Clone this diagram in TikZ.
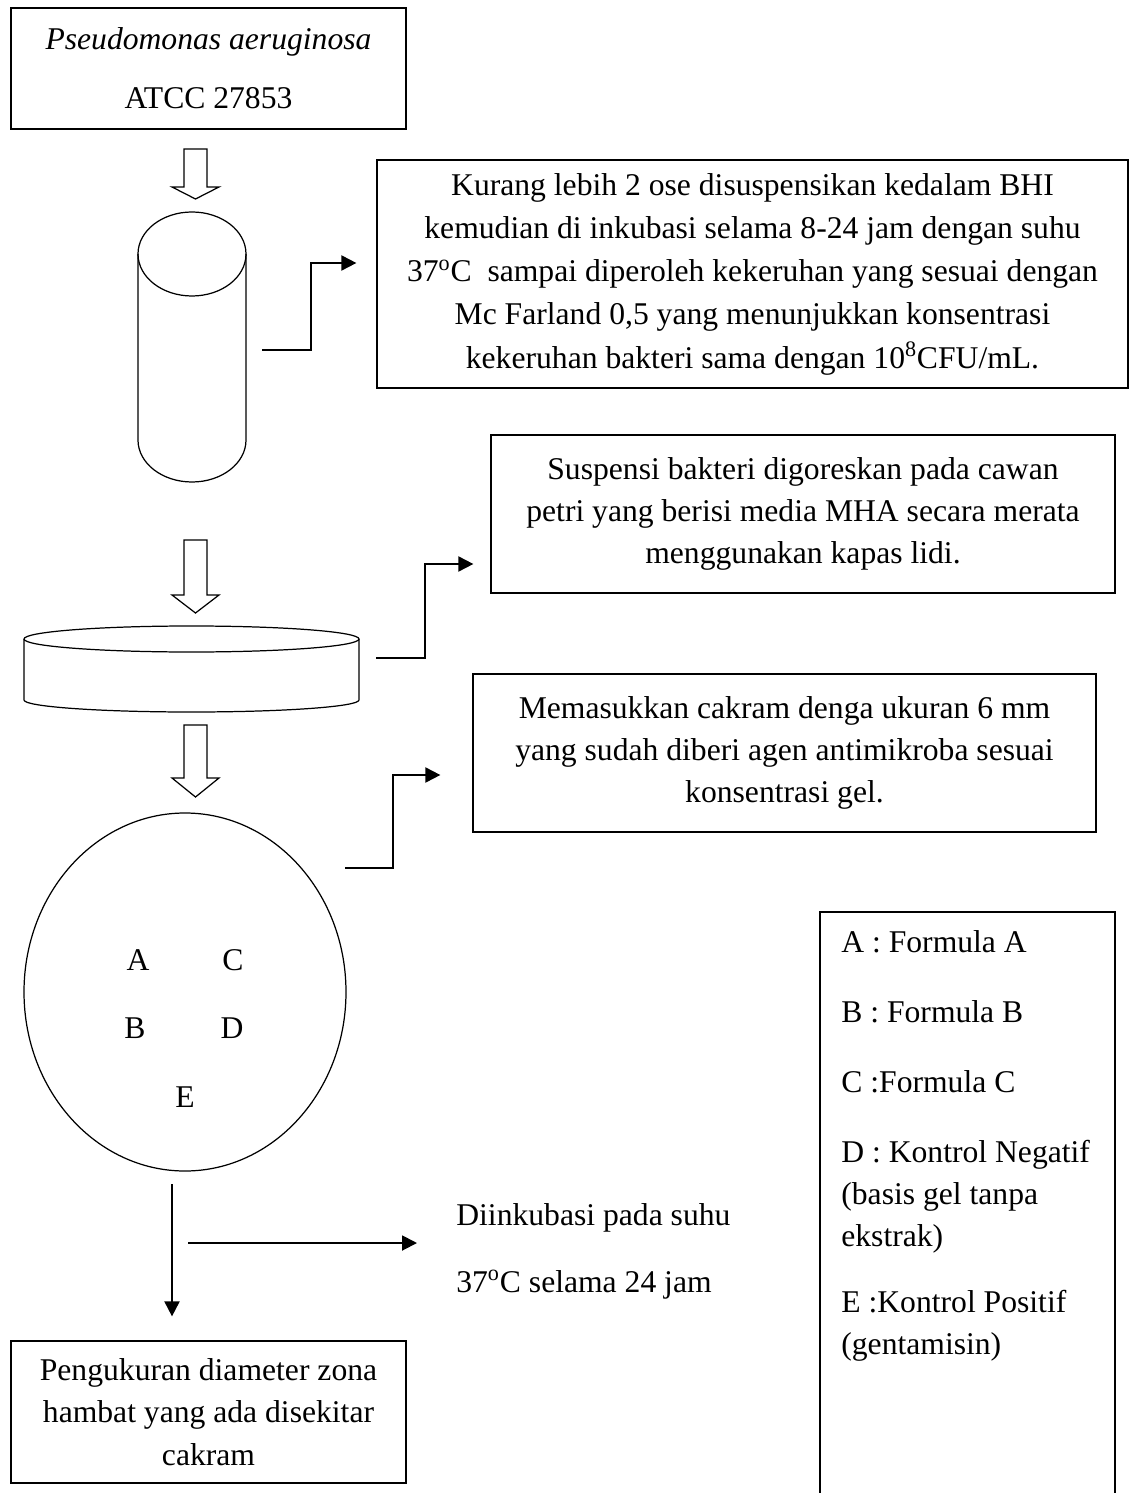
\documentclass[tikz,border=0pt]{standalone}
\usepackage{fontspec}
\setmainfont{Liberation Serif}
\usepackage{tikz}
\usetikzlibrary{positioning,shapes.geometric,arrows.meta,calc}
\tikzset{
  stepbox/.style={draw=black,line width=0.7pt,align=center,inner sep=2pt,
    font=\fontsize{18}{24}\selectfont},
  platelabel/.style={font=\fontsize{18}{24}\selectfont,inner sep=0pt},
  notetext/.style={font=\fontsize{18}{24}\selectfont,align=left,inner sep=0pt},
  shapeline/.style={draw=black,line width=0.7pt},
  flow/.style={draw=black,line width=1.1pt,-{Triangle[length=0.3cm,width=0.3cm]}},
}

\begin{document}
\begin{tikzpicture}
  \useasboundingbox (0,0) rectangle (22.82,-29.86);
  % boxes
  \node[stepbox,minimum width=7.9cm,minimum height=2.42cm] (source) at (4.17,-1.37)
    {\textit{Pseudomonas aeruginosa}\\[9.5pt]ATCC 27853};
  \node[stepbox,minimum width=15.02cm,minimum height=4.56cm,
    font=\fontsize{18}{24.6}\selectfont] (culture) at (15.05,-5.48)
    {Kurang lebih 2 ose disuspensikan kedalam BHI\\
     kemudian di inkubasi selama 8-24 jam dengan suhu\\
     37\textsuperscript{o}C\ \ sampai diperoleh kekeruhan yang sesuai dengan\\
     Mc Farland 0,5 yang menunjukkan konsentrasi\\
     kekeruhan bakteri sama dengan 10\textsuperscript{8}CFU/mL.};
  \node[stepbox,minimum width=12.48cm,minimum height=3.16cm] (streak) at (16.06,-10.28)
    {Suspensi bakteri digoreskan pada cawan\\
     petri yang berisi media MHA secara merata\\
     menggunakan kapas lidi.};
  \node[stepbox,minimum width=12.46cm,minimum height=3.16cm] (disc) at (15.69,-15.06)
    {Memasukkan cakram denga ukuran 6 mm\\
     yang sudah diberi agen antimikroba sesuai\\
     konsentrasi gel.};
  \node[stepbox,minimum width=7.9cm,minimum height=2.84cm] (result) at (4.17,-28.24)
    {Pengukuran diameter zona\\
     hambat yang ada disekitar\\
     cakram};
  \node[notetext,anchor=west] (incub) at (9.12,-25.02)
    {Diinkubasi pada suhu\\[14pt]37\textsuperscript{o}C selama 24 jam};

  % hollow arrows
  \foreach \ytop/\ybase/\ytip in {-2.98/-3.74/-3.98,-10.8/-11.9/-12.26,-14.5/-15.56/-15.94}
    \draw[shapeline] (3.68,\ytop) -- (4.14,\ytop) -- (4.14,\ybase) -- (4.38,\ybase)
      -- (3.91,\ytip) -- (3.44,\ybase) -- (3.68,\ybase) -- cycle;

  % tube
  \draw[shapeline] (3.84,-5.08) ellipse (1.08 and 0.84);
  \draw[shapeline] (2.76,-5.08) -- (2.76,-8.8) arc (180:360:1.08 and 0.84) -- (4.92,-5.08);
  % petri dish
  \draw[shapeline] (3.83,-12.78) ellipse (3.35 and 0.26);
  \draw[shapeline] (0.48,-12.78) -- (0.48,-14) arc (180:360:3.35 and 0.24) -- (7.18,-12.78);
  % plate with discs
  \node[ellipse,shapeline,minimum width=6.44cm,minimum height=7.16cm] (plate) at (3.7,-19.84) {};
  \node[platelabel] (discA) at (2.76,-19.2) {A};
  \node[platelabel] (discC) at (4.66,-19.2) {C};
  \node[platelabel] (discB) at (2.7,-20.56) {B};
  \node[platelabel] (discD) at (4.64,-20.56) {D};
  \node[platelabel] (discE) at (3.7,-21.94) {E};

  % legend
  \node[notetext,anchor=north west] (legend) at (16.82,-18.6)
    {A : Formula A\\[15.8pt]
     B : Formula B\\[15.8pt]
     C :Formula C\\[15.8pt]
     D : Kontrol Negatif\\
     (basis gel tanpa\\
     ekstrak)\\[13.6pt]
     E :Kontrol Positif\\
     (gentamisin)};
  \draw[shapeline] (16.4,-29.86) |- (22.3,-18.24) -- (22.3,-29.86);

  % connectors
  \coordinate (tubeout) at (5.24,-7.0);
  \coordinate (dishout) at (7.52,-13.16);
  \coordinate (plateout) at (6.9,-17.36);
  \coordinate (incdown) at (3.44,-23.68);
  \coordinate (incright) at (3.76,-24.86);
  \draw[flow] (tubeout) -- ++(0.98,0) |- ([xshift=-0.4cm,yshift=0.22cm]culture.west);
  \draw[flow] (dishout) -- ++(0.98,0) |- ([xshift=-0.34cm,yshift=-1cm]streak.west);
  \draw[flow] (plateout) -- ++(0.96,0) |- ([xshift=-0.64cm,yshift=-0.44cm]disc.west);
  \draw[flow] (incdown) -- ($(incdown |- result.north)+(0,0.48)$);
  \draw[flow] (incright) -- ($(incright -| incub.west)+(-0.78,0)$);
\end{tikzpicture}
\end{document}
